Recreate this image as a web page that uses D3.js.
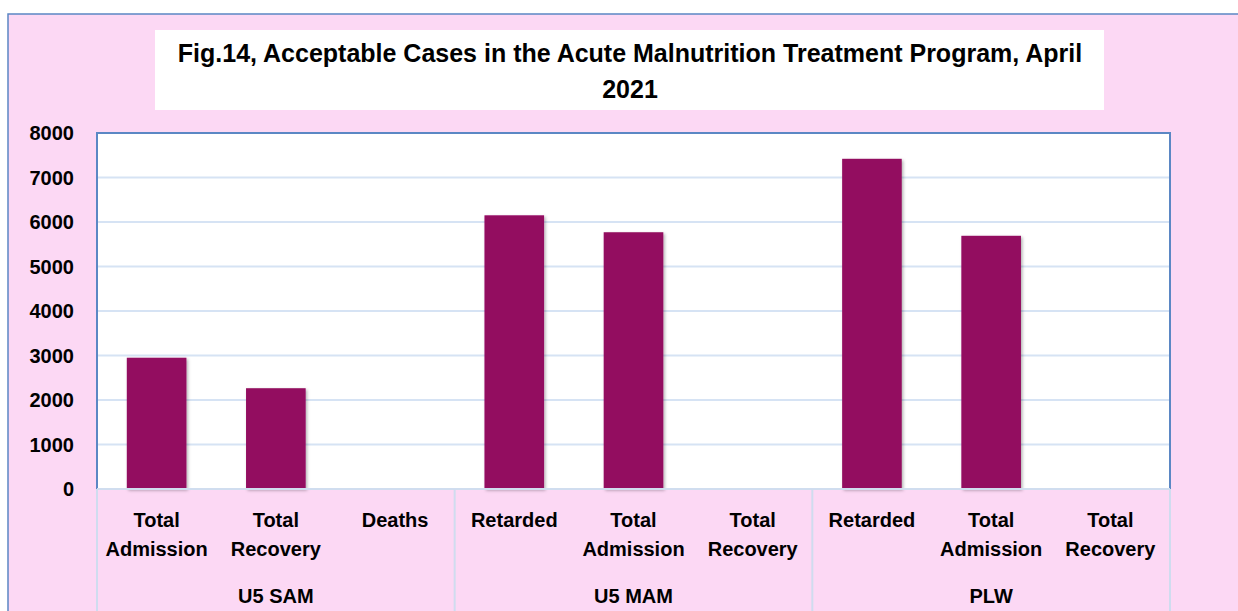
<!DOCTYPE html>
<html lang="en">
<head>
  <meta charset="UTF-8">
  <title>Acceptable Cases in the Acute Malnutrition Treatment Program</title>
  <script src="https://d3js.org/d3.v7.min.js"></script>
  <style>
    body { margin: 0; background: #fff; }
    svg text { font-family: "Liberation Sans", Arial, sans-serif; font-weight: bold; fill: #000; }
  </style>
</head>
<body>
  <svg width="1238" height="611"></svg>

  <script>
    // chart data
    const groups = ["U5 SAM", "U5 MAM", "PLW"];
    const categories = [
      ["Total", "Admission"], ["Total", "Recovery"], ["Deaths"],
      ["Retarded"], ["Total", "Admission"], ["Total", "Recovery"],
      ["Retarded"], ["Total", "Admission"], ["Total", "Recovery"]
    ];
    const groupOf = [0, 0, 0, 1, 1, 1, 2, 2, 2];
    const values = [2950, 2265, 0, 6150, 5770, 0, 7420, 5690, 0];
    const yTicks = [0, 1000, 2000, 3000, 4000, 5000, 6000, 7000, 8000];
    const titleLines = ["Fig.14, Acceptable Cases in the Acute Malnutrition Treatment Program, April", "2021"];

    const svg = d3.select("svg");
    const pink = "#fcd8f4";
    const plot = { left: 97, right: 1170, top: 133, bottom: 489 };

    // outer chart background
    svg.append("rect")
      .attr("x", 8).attr("y", 14)
      .attr("width", 1260).attr("height", 640)
      .attr("fill", pink)
      .attr("stroke", "#5b87c4").attr("stroke-width", 1.5);

    // title box
    svg.append("rect")
      .attr("x", 155).attr("y", 30)
      .attr("width", 949).attr("height", 80)
      .attr("fill", "#fff");

    svg.selectAll(".title")
      .data(titleLines)
      .enter().append("text")
      .attr("class", "title")
      .attr("x", 630)
      .attr("y", (d, i) => 62 + i * 36)
      .attr("text-anchor", "middle")
      .style("font-size", "25px")
      .text(d => d);

    // plot area
    svg.append("rect")
      .attr("x", plot.left).attr("y", plot.top)
      .attr("width", plot.right - plot.left).attr("height", plot.bottom - plot.top)
      .attr("fill", "#fff");

    let x = d3.scaleBand()
      .domain(d3.range(categories.length))
      .range([plot.left, plot.right])
      .paddingInner(0.5)
      .paddingOuter(0.25);

    let y = d3.scaleLinear()
      .domain([0, 8000])
      .range([plot.bottom, plot.top]);

    // gridlines
    svg.append("g")
      .selectAll("line")
      .data(yTicks.filter(d => d > 0 && d < 8000))
      .enter().append("line")
      .attr("x1", plot.left).attr("x2", plot.right)
      .attr("y1", d => y(d)).attr("y2", d => y(d))
      .attr("stroke", "#d6e3f4").attr("stroke-width", 2);

    // y axis labels
    svg.append("g")
      .selectAll("text")
      .data(yTicks)
      .enter().append("text")
      .attr("x", 74)
      .attr("y", d => y(d))
      .attr("dy", "0.36em")
      .attr("text-anchor", "end")
      .style("font-size", "20px")
      .text(d => d);

    // bar shadow
    let defs = svg.append("defs");
    let f = defs.append("filter").attr("id", "shadow")
      .attr("x", "-20%").attr("y", "-20%").attr("width", "140%").attr("height", "140%");
    f.append("feDropShadow")
      .attr("dx", 1.5).attr("dy", 1.5).attr("stdDeviation", 1.5)
      .attr("flood-color", "#000").attr("flood-opacity", 0.3);

    // bars
    let barData = values.map((v, i) => ({ i, v })).filter(d => d.v > 0);
    svg.append("g")
      .selectAll("rect")
      .data(barData)
      .enter().append("rect")
      .attr("x", d => x(d.i))
      .attr("y", d => y(d.v))
      .attr("width", x.bandwidth())
      .attr("height", d => y(0) - y(d.v))
      .attr("fill", "#930a60")
      .attr("filter", "url(#shadow)");

    // plot border (blue top / left / right)
    svg.append("path")
      .attr("d", `M${plot.left},${plot.bottom}V${plot.top}H${plot.right}V${plot.bottom}`)
      .attr("fill", "none")
      .attr("stroke", "#5b87c4").attr("stroke-width", 2);

    // category axis lines
    svg.append("line")
      .attr("x1", plot.left).attr("x2", plot.right)
      .attr("y1", plot.bottom).attr("y2", plot.bottom)
      .attr("stroke", "#d0ddef").attr("stroke-width", 2);

    let step = x.step();
    let sepX = [0, 3, 6, 9].map(i => plot.left + i * step);
    svg.append("g")
      .selectAll("line")
      .data(sepX)
      .enter().append("line")
      .attr("x1", d => d).attr("x2", d => d)
      .attr("y1", plot.bottom).attr("y2", 611)
      .attr("stroke", "#cfdcef").attr("stroke-width", 2);

    // category labels
    let catG = svg.append("g");
    categories.forEach((lines, i) => {
      let cx = x(i) + x.bandwidth() / 2;
      lines.forEach((t, j) => {
        catG.append("text")
          .attr("x", cx)
          .attr("y", 527 + j * 29)
          .attr("text-anchor", "middle")
          .style("font-size", "20px")
          .text(t);
      });
    });

    // group labels
    svg.append("g")
      .selectAll("text")
      .data(groups)
      .enter().append("text")
      .attr("x", (d, i) => (sepX[i] + sepX[i + 1]) / 2)
      .attr("y", 603)
      .attr("text-anchor", "middle")
      .style("font-size", "20px")
      .text(d => d);
  </script>
</body>
</html>
